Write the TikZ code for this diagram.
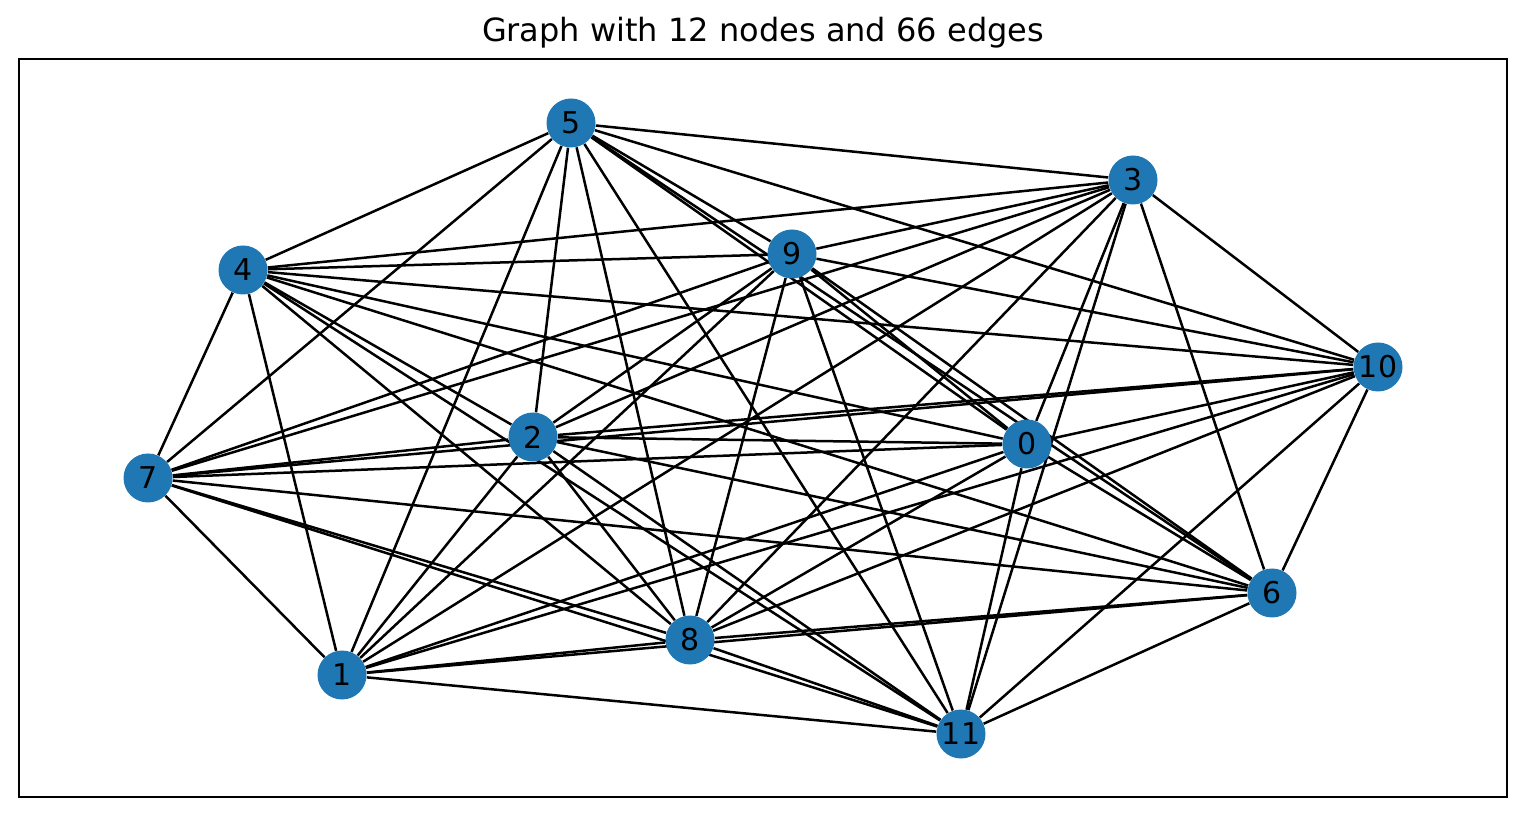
\documentclass[tikz,border=0pt]{standalone}
\usepackage{fontspec}
\setmainfont{DejaVu Sans}
\pgfdeclarelayer{background}
\pgfsetlayers{background,main}

\begin{document}
\begin{tikzpicture}[x=0.5pt,y=-0.5pt,
    vertex/.style={circle,fill=nodeblue,minimum size=24.5pt,inner sep=0pt,font=\fontsize{15}{18}\selectfont},
    link/.style={line width=1.25pt}]
    \definecolor{nodeblue}{HTML}{1F77B4}
    \useasboundingbox (0,0) rectangle (1526,817);
    \draw[line width=1pt] (19,59) rectangle (1507,797);
    \node[font=\fontsize{16}{19}\selectfont] (title) at (763,33) {Graph with 12 nodes and 66 edges};
    % vertices
    \foreach \name/\x/\y in {0/1027/444, 1/342/675, 2/533/437, 3/1133/180, 4/243/270, 5/571/123,
                             6/1272/593, 7/148/478, 8/690/640, 9/792/254, 10/1378/367, 11/961/734}
        \node[vertex] (n\name) at (\x,\y) {\name};
    % complete graph: every pair
    \begin{pgfonlayer}{background}
    \foreach \i in {0,...,10}{
        \pgfmathtruncatemacro\k{\i+1}
        \foreach \j in {\k,...,11}
            \draw[link] (n\i) -- (n\j);
    }
    \end{pgfonlayer}
\end{tikzpicture}
\end{document}
